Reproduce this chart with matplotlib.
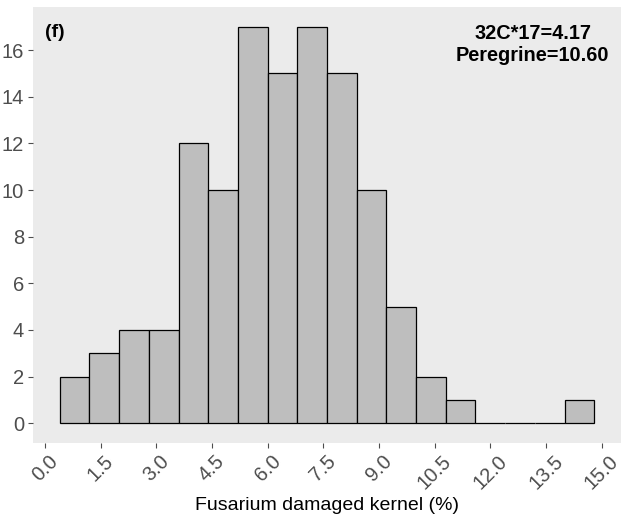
import matplotlib
matplotlib.use('Agg')
import matplotlib.pyplot as plt
import numpy as np

plt.rcParams['font.family'] = ['Liberation Sans', 'DejaVu Sans']

# histogram counts (bin width 0.8, first edge 0.4)
bin_edges = [0.4 + 0.8 * k for k in range(19)]
counts = [2, 3, 4, 4, 12, 10, 17, 15, 17, 15, 10, 5, 2, 1, 0, 0, 0, 1]
x_ticks = [0.0, 1.5, 3.0, 4.5, 6.0, 7.5, 9.0, 10.5, 12.0, 13.5, 15.0]
y_ticks = [0, 2, 4, 6, 8, 10, 12, 14, 16]

fig = plt.figure(figsize=(6.32, 5.18), dpi=100)
ax = fig.add_axes([33 / 632, 1 - 443 / 518, 588 / 632, 436 / 518])
ax.set_facecolor('#EBEBEB')

left = np.array(bin_edges[:-1])
widths = np.diff(bin_edges)
ax.bar(left, counts, width=widths, align='edge', color='#BEBEBE',
       edgecolor='black', linewidth=0.9)

ax.set_xlim(-0.32, 15.52)
ax.set_ylim(-0.85, 17.85)
ax.set_xticks(x_ticks)
ax.set_xticklabels([f'{v:.1f}' for v in x_ticks], rotation=45,
                   ha='center', va='top')
ax.set_yticks(y_ticks)
ax.tick_params(axis='both', colors='#4D4D4D', labelsize=14.5, length=3.5,
               width=0.8, labelcolor='#4D4D4D', pad=3)
for s in ax.spines.values():
    s.set_visible(False)

ax.set_xlabel('Fusarium damaged kernel (%)', fontsize=14, labelpad=3)

ax.text(0.02, 0.962, '(f)', transform=ax.transAxes, fontsize=14,
        fontweight='bold', ha='left', va='top')
ax.text(0.85, 0.962, '32C*17=4.17\nPeregrine=10.60', transform=ax.transAxes,
        fontsize=14.3, fontweight='bold', ha='center', va='top',
        linespacing=1.25)

fig.savefig('out.png', dpi=100)
